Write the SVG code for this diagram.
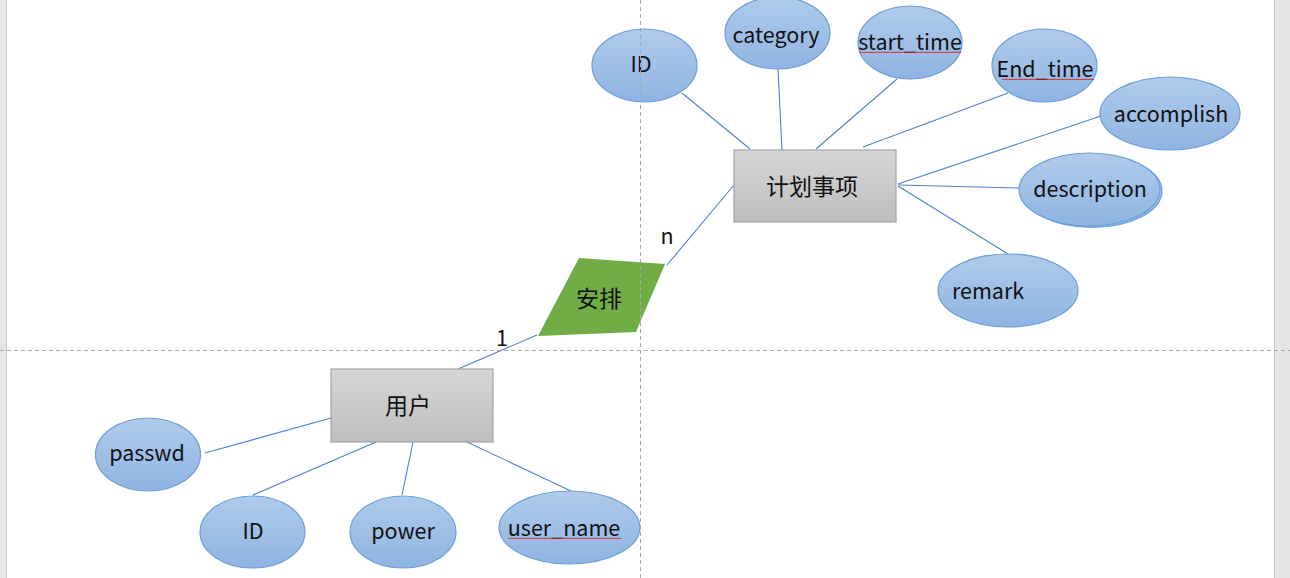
<svg xmlns="http://www.w3.org/2000/svg" width="1290" height="578" viewBox="0 0 1290 578">
<defs>
<linearGradient id="gb" x1="0" y1="0" x2="0" y2="1">
<stop offset="0" stop-color="#b0cbeb"/>
<stop offset="1" stop-color="#8fb4e2"/>
</linearGradient>
<linearGradient id="gg" x1="0" y1="0" x2="0" y2="1">
<stop offset="0" stop-color="#d6d6d6"/>
<stop offset="1" stop-color="#bdbdbd"/>
</linearGradient>
<pattern id="wave" width="4" height="3" patternUnits="userSpaceOnUse">
<path d="M0 2 L1 0.8 L2 2 L3 0.8 L4 2" fill="none" stroke="#e02020" stroke-width="0.8"/>
</pattern>
<style>
.attr{fill:url(#gb);stroke:#6a9fd8;stroke-width:1.2}
.ent{fill:url(#gg);stroke:#a3a3a3;stroke-width:1.2}
.t{font-family:"Noto Sans CJK SC","Noto Sans",sans-serif;font-size:21.5px;fill:#111;text-anchor:middle}
.zh{font-size:23px}
.c line{stroke:#4f7fcf;stroke-width:1.1}
.guide{stroke:#a8a8a8;stroke-width:1;stroke-dasharray:4 3;fill:none}
.wv{fill:url(#wave)}
</style>
</defs>
<rect x="0" y="0" width="1290" height="578" fill="#ffffff"/>
<rect x="0" y="0" width="6" height="578" fill="#e6e6e6"/>
<line x1="6.5" y1="0" x2="6.5" y2="578" stroke="#c6c6c6"/>
<rect x="1274" y="0" width="16" height="578" fill="#e6e6e6"/>
<line x1="1274.5" y1="0" x2="1274.5" y2="578" stroke="#c6c6c6"/>

<g id="connectors" class="c">
<line x1="682" y1="93" x2="750" y2="149"/>
<line x1="778" y1="69" x2="782" y2="150"/>
<line x1="897" y1="79" x2="816" y2="149"/>
<line x1="1008" y1="93" x2="863" y2="147"/>
<line x1="1101" y1="116" x2="898" y2="184"/>
<line x1="898" y1="185" x2="1019" y2="188"/>
<line x1="898" y1="186" x2="1008" y2="254"/>
<line x1="667" y1="265" x2="734" y2="185"/>
<line x1="537" y1="335" x2="458" y2="369"/>
<line x1="205" y1="453" x2="331" y2="418"/>
<line x1="253" y1="495" x2="376" y2="442"/>
<line x1="402" y1="495" x2="413" y2="442"/>
<line x1="571" y1="491" x2="467" y2="442"/>
</g>

<g id="plan">
<rect class="ent" x="734" y="150" width="162" height="72"/>
<text class="t zh" x="812" y="195">计划事项</text>
</g>
<g id="user">
<rect class="ent" x="331" y="369" width="162" height="73"/>
<text class="t zh" x="408" y="414">用户</text>
</g>
<g id="arrange">
<polygon points="579,258 665,264 636,332 538,336" fill="#70ad47"/>
<text class="t zh" x="599" y="307">安排</text>
</g>
<g id="label-n"><text class="t" x="667" y="244">n</text></g>
<g id="label-1"><text class="t" x="502" y="346">1</text></g>

<g id="p-id">
<ellipse class="attr" cx="644.5" cy="65.5" rx="52.5" ry="36.5"/>
<text class="t" x="641" y="72">ID</text>
</g>
<g id="p-category">
<ellipse class="attr" cx="777.5" cy="33" rx="52.5" ry="36"/>
<text class="t" x="776" y="43">category</text>
</g>
<g id="p-start">
<ellipse class="attr" cx="910" cy="42.5" rx="52" ry="36.5"/>
<text class="t" x="910" y="50">start_time</text>
<rect class="wv" x="859" y="51" width="102" height="3"/>
</g>
<g id="p-end">
<ellipse class="attr" cx="1044.5" cy="65.5" rx="52.5" ry="36.5"/>
<text class="t" x="1045" y="77">End_time</text>
<rect class="wv" x="1002" y="78" width="92" height="3"/>
</g>
<g id="p-accomplish">
<ellipse class="attr" cx="1170" cy="113.5" rx="70" ry="36.5"/>
<text class="t" x="1171" y="122">accomplish</text>
</g>
<g id="p-description">
<ellipse class="attr" cx="1092" cy="191" rx="70" ry="36.5"/>
<ellipse class="attr" cx="1089.5" cy="189.5" rx="70.5" ry="36.5"/>
<text class="t" x="1090" y="197">description</text>
</g>
<g id="p-remark">
<ellipse class="attr" cx="1008" cy="290.5" rx="70" ry="36.5"/>
<text class="t" x="988" y="299">remark</text>
</g>

<g id="u-passwd">
<ellipse class="attr" cx="148" cy="454.5" rx="52.5" ry="36.5"/>
<text class="t" x="147" y="461">passwd</text>
</g>
<g id="u-id">
<ellipse class="attr" cx="252.5" cy="532" rx="52.5" ry="36"/>
<text class="t" x="253" y="539">ID</text>
</g>
<g id="u-power">
<ellipse class="attr" cx="403" cy="532" rx="53" ry="36"/>
<text class="t" x="403" y="539">power</text>
</g>
<g id="u-username">
<ellipse class="attr" cx="569.5" cy="527.5" rx="70.5" ry="36.5"/>
<text class="t" x="564" y="536">user_name</text>
<rect class="wv" x="508" y="537" width="113" height="3"/>
</g>

<line class="guide" x1="640.5" y1="0" x2="640.5" y2="578"/>
<line class="guide" x1="0" y1="350.5" x2="1290" y2="350.5"/>
</svg>
